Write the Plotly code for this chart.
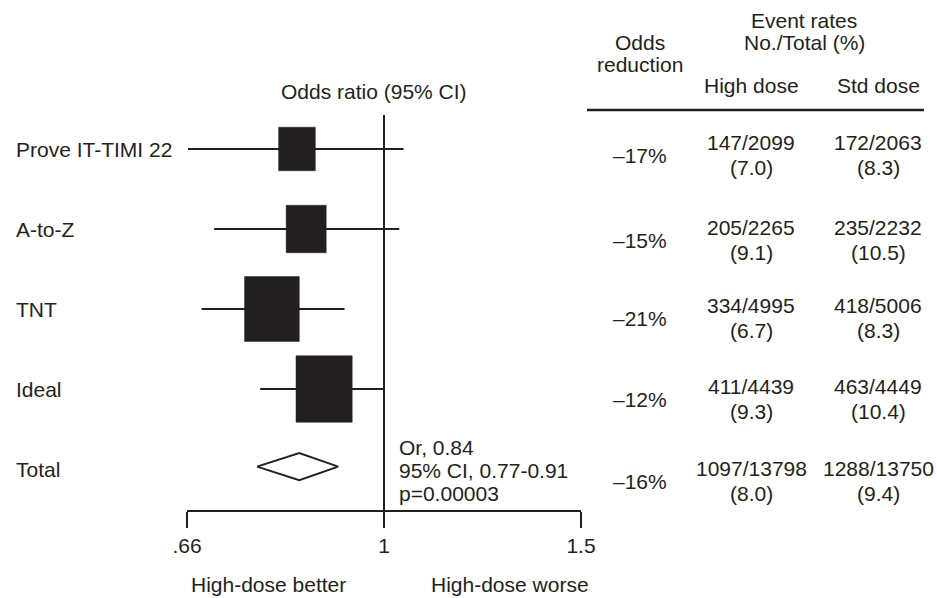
import math
import plotly.graph_objects as go

# ---------------- data ----------------
studies = ["Prove IT-TIMI 22", "A-to-Z", "TNT", "Ideal"]
odds_ratio = [0.836, 0.852, 0.794, 0.884]
ci_low = [0.668, 0.705, 0.687, 0.775]
ci_high = [1.041, 1.032, 0.922, 1.000]
weight_pct = [14.8, 17.6, 32.9, 34.7]

total_label = "Total"
total_or = 0.84
total_low = 0.77
total_high = 0.91
total_text = ["Or, 0.84", "95% CI, 0.77-0.91", "p=0.00003"]

odds_reduction = ["–17%", "–15%", "–21%", "–12%", "–16%"]
high_dose = ["147/2099", "205/2265", "334/4995", "411/4439", "1097/13798"]
high_pct = ["7.0", "9.1", "6.7", "9.3", "8.0"]
std_dose = ["172/2063", "235/2232", "418/5006", "463/4449", "1288/13750"]
std_pct = ["8.3", "10.5", "8.3", "10.4", "9.4"]

tick_vals = [2 / 3, 1, 1.5]
tick_text = [".66", "1", "1.5"]

# ---------------- layout geometry ----------------
FW, FH = 937, 598
L, R, T, B = 187, 356, 100, 88
PW, PH = FW - L - R, FH - T - B
XR = [math.log10(2 / 3), math.log10(1.5)]
YR = [4.5125, -0.6125]
PX_PER_DEC = PW / (XR[1] - XR[0])
PX_PER_ROW = PH / (YR[0] - YR[1])
TABLE_SHIFT = [-6, -11, -9, -10, -12]   # pixel offset of table rows vs plot rows
LINE_GAP = 12.5                          # half spacing of two-line cells

INK = "#231f20"
FONT = "Liberation Sans, Arial, Helvetica, sans-serif"
FS = 21


def px2x(px):
    return (px - L) / PW


def py2y(py):
    return 1 - (py - T) / PH


fig = go.Figure()

# CI lines and boxes
for i, (o, lo, hi, w) in enumerate(zip(odds_ratio, ci_low, ci_high, weight_pct)):
    fig.add_trace(go.Scatter(x=[lo, hi], y=[i, i], mode="lines",
                             line=dict(color=INK, width=2.2), hoverinfo="skip"))
    hw = 4.77 * math.sqrt(w) / PX_PER_DEC
    hh = 5.65 * math.sqrt(w) / PX_PER_ROW
    x0, x1 = o * 10 ** (-hw), o * 10 ** hw
    fig.add_trace(go.Scatter(x=[x0, x1, x1, x0, x0], y=[i - hh, i - hh, i + hh, i + hh, i - hh],
                             mode="lines", fill="toself", fillcolor=INK,
                             line=dict(color=INK, width=0.5), hoverinfo="skip"))

# Total diamond
ti = len(studies)
dh = 13.5 / PX_PER_ROW
yc = ti - 0.03
fig.add_trace(go.Scatter(x=[total_low, total_or, total_high, total_or, total_low],
                         y=[yc, yc - dh, yc, yc + dh, yc],
                         mode="lines", line=dict(color=INK, width=2), hoverinfo="skip"))

shapes = [
    # reference line at OR = 1
    dict(type="line", xref="x", yref="paper", x0=1, x1=1, y0=0, y1=py2y(115),
         line=dict(color=INK, width=2)),
    # table rule
    dict(type="line", xref="paper", yref="paper", x0=px2x(587), x1=px2x(924),
         y0=py2y(110), y1=py2y(110), line=dict(color=INK, width=2.5)),
]

ann = []


def add_text(text, px, py, xanchor="center", ref_y=None, yshift=0):
    a = dict(text=text, xref="paper", x=px2x(px), xanchor=xanchor, yanchor="middle",
             showarrow=False, font=dict(family=FONT, size=FS, color=INK), align="center")
    if ref_y is None:
        a.update(yref="paper", y=py2y(py))
    else:
        a.update(yref="y", y=ref_y, yshift=yshift)
    ann.append(a)


labels = studies + [total_label]
for i, lab in enumerate(labels):
    add_text(lab, 14, None, xanchor="left", ref_y=i)

add_text("Odds ratio (95% CI)", 374, 91)
for k, t in enumerate(total_text):
    add_text(t, 397, 447 + 23 * k, xanchor="left")

add_text("High-dose better", 268, 584)
add_text("High-dose worse", 510, 584)

# table header
add_text("Odds", 640, 43)
add_text("reduction", 640, 65)
add_text("Event rates", 804, 20)
add_text("No./Total (%)", 804, 43)
add_text("High dose", 751, 86)
add_text("Std dose", 878, 86)

# table body
for i in range(len(labels)):
    ys = TABLE_SHIFT[i]
    add_text(odds_reduction[i], 640, None, ref_y=i, yshift=ys)
    add_text(high_dose[i], 751, None, ref_y=i, yshift=ys + LINE_GAP)
    add_text(f"({high_pct[i]})", 751, None, ref_y=i, yshift=ys - LINE_GAP)
    add_text(std_dose[i], 878, None, ref_y=i, yshift=ys + LINE_GAP)
    add_text(f"({std_pct[i]})", 878, None, ref_y=i, yshift=ys - LINE_GAP)

fig.update_layout(
    width=FW, height=FH,
    margin=dict(l=L, r=R, t=T, b=B, pad=0),
    paper_bgcolor="white", plot_bgcolor="white",
    showlegend=False,
    shapes=shapes, annotations=ann,
    font=dict(family=FONT, size=FS, color=INK),
    xaxis=dict(type="log", range=XR, tickvals=tick_vals, ticktext=tick_text,
               showgrid=False, zeroline=False, showline=True, linecolor=INK, linewidth=2,
               ticks="outside", ticklen=16, tickwidth=2, tickcolor=INK,
               tickfont=dict(family=FONT, size=FS, color=INK), fixedrange=True),
    yaxis=dict(range=YR, visible=False, showgrid=False, zeroline=False, fixedrange=True),
)

fig.write_html("out.html", config={"displayModeBar": False},
               post_script="document.body.style.margin='0';document.body.style.overflow='hidden';")
